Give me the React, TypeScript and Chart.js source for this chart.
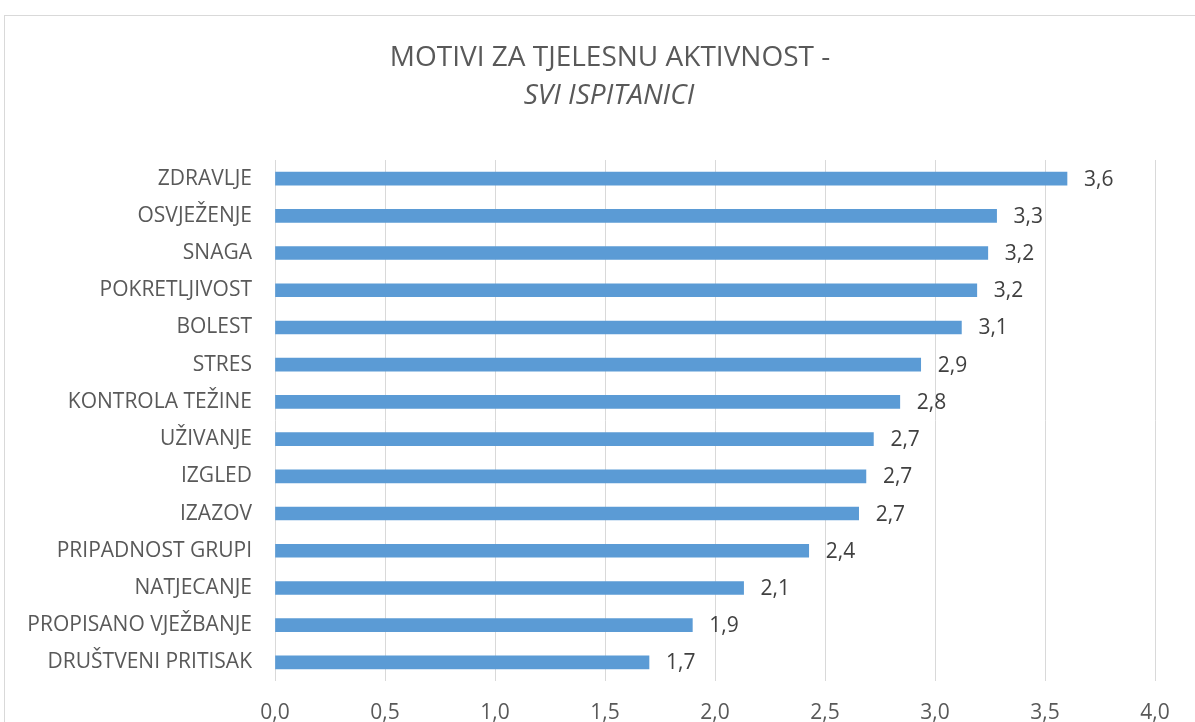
import React, { useEffect, useRef } from "react";
import { Chart, registerables } from "chart.js";

Chart.register(...registerables);

const categories = [
  "ZDRAVLJE",
  "OSVJEŽENJE",
  "SNAGA",
  "POKRETLJIVOST",
  "BOLEST",
  "STRES",
  "KONTROLA TEŽINE",
  "UŽIVANJE",
  "IZGLED",
  "IZAZOV",
  "PRIPADNOST GRUPI",
  "NATJECANJE",
  "PROPISANO VJEŽBANJE",
  "DRUŠTVENI PRITISAK",
];

const values = [3.6, 3.28, 3.24, 3.19, 3.12, 2.935, 2.84, 2.72, 2.686, 2.653, 2.426, 2.13, 1.897, 1.7];

const titleLine1 = "MOTIVI ZA TJELESNU AKTIVNOST -";
const titleLine2 = "SVI ISPITANICI";

const xMin = 0;
const xMax = 4;
const xStep = 0.5;

const FONT = "'Open Sans'";
const fmt = (v: number) => v.toFixed(1).replace(".", ",");

const bgPlugin = {
  id: "bgBorder",
  beforeDraw(chart: any) {
    const { ctx, width, height } = chart;
    ctx.save();
    ctx.fillStyle = "#ffffff";
    ctx.fillRect(0, 0, width, height);
    ctx.strokeStyle = "#d9d9d9";
    ctx.lineWidth = 1;
    ctx.strokeRect(4.5, 15.5, width + 20, height + 20);
    ctx.restore();
  },
};

const titlePlugin = {
  id: "twoLineTitle",
  afterDraw(chart: any) {
    const { ctx } = chart;
    ctx.save();
    ctx.fillStyle = "#595959";
    ctx.textAlign = "center";
    ctx.textBaseline = "middle";
    ctx.font = `28px ${FONT}`;
    ctx.fillText(titleLine1, 610, 58);
    ctx.font = `italic 28px ${FONT}`;
    ctx.fillText(titleLine2, 609, 96);
    ctx.restore();
  },
};

const labelPlugin = {
  id: "valueLabels",
  afterDatasetsDraw(chart: any) {
    const { ctx } = chart;
    const meta = chart.getDatasetMeta(0);
    ctx.save();
    ctx.fillStyle = "#404040";
    ctx.font = `21px ${FONT}`;
    ctx.textAlign = "left";
    ctx.textBaseline = "middle";
    meta.data.forEach((bar: any, i: number) => {
      ctx.fillText(fmt(values[i]), bar.x + 17, bar.y + 1);
    });
    ctx.restore();
  },
};

export default function App() {
  const ref = useRef<HTMLCanvasElement>(null);
  useEffect(() => {
    if (!ref.current) return;
    const chart = new Chart(ref.current, {
      type: "bar",
      data: {
        labels: categories,
        datasets: [
          {
            data: values,
            backgroundColor: "#5B9BD5",
            borderWidth: 0,
            barThickness: 13,
          },
        ],
      },
      options: {
        indexAxis: "y",
        responsive: false,
        animation: false,
        layout: { padding: { left: 0, right: 40, top: 160, bottom: 0 } },
        plugins: {
          legend: { display: false },
          tooltip: { enabled: false },
          title: { display: false },
          subtitle: { display: false },
        },
        scales: {
          x: {
            min: xMin,
            max: xMax,
            ticks: {
              stepSize: xStep,
              color: "#595959",
              font: { family: FONT, size: 21 },
              padding: 19,
              callback: (v: any) => fmt(Number(v)),
            },
            grid: { color: "#d9d9d9", lineWidth: 1, drawTicks: false },
            border: { display: false },
            afterFit: (scale: any) => {
              scale.height = 41;
            },
          },
          y: {
            ticks: {
              color: "#595959",
              font: { family: FONT, size: 21 },
              padding: 23,
            },
            grid: { display: false, drawTicks: false },
            border: { display: false },
            afterFit: (scale: any) => {
              scale.width = 275;
            },
          },
        },
      },
      plugins: [bgPlugin, labelPlugin, titlePlugin],
    });
    return () => chart.destroy();
  }, []);
  return (
    <div style={{ position: "fixed", left: 0, top: 0, width: 1195, height: 722 }}>
      <canvas ref={ref} width={1195} height={722} />
    </div>
  );
}
